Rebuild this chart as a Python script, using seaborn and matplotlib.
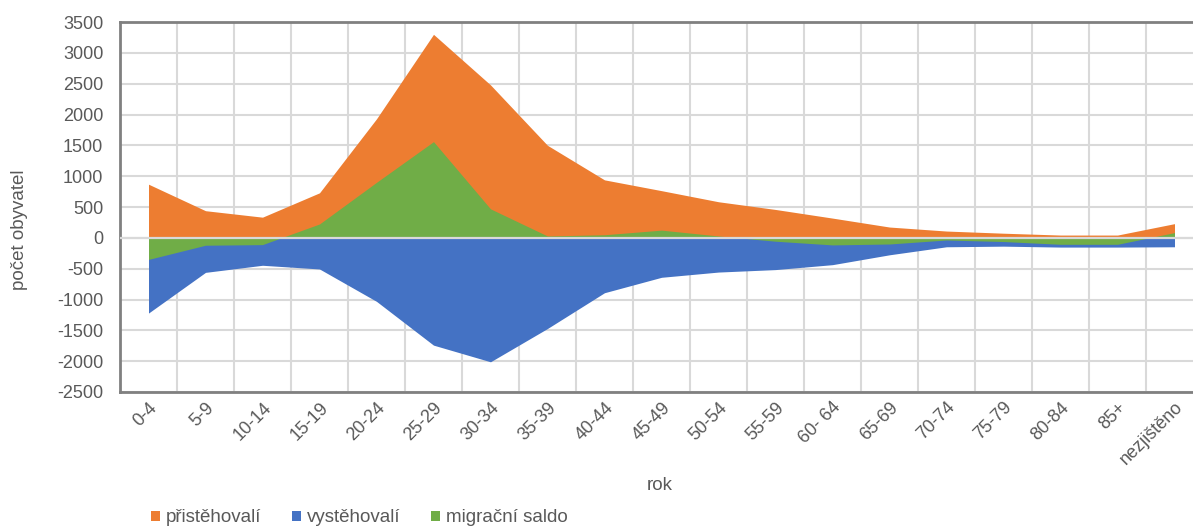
import numpy as np
import pandas as pd
import matplotlib
matplotlib.use("Agg")
import matplotlib.pyplot as plt
from matplotlib.patches import Patch
import seaborn as sns

categories = ['0-4', '5-9', '10-14', '15-19', '20-24', '25-29', '30-34', '35-39',
              '40-44', '45-49', '50-54', '55-59', '60- 64', '65-69', '70-74',
              '75-79', '80-84', '85+', 'nezjištěno']
pristehovali = [870, 440, 335, 730, 1930, 3300, 2480, 1500, 940, 765, 585, 460,
                320, 175, 110, 75, 45, 45, 230]
vystehovali = [-1220, -560, -445, -505, -1030, -1740, -2010, -1470, -890, -640,
               -555, -515, -435, -275, -145, -135, -150, -150, -145]
saldo = [-350, -120, -110, 225, 900, 1560, 470, 30, 50, 125, 30, -55, -115,
         -100, -35, -60, -105, -105, 85]
series_names = ['přistěhovalí', 'vystěhovalí', 'migrační saldo']
y_ticks = list(range(-2500, 3501, 500))

colors = ['#ED7D31', '#4472C4', '#70AD47']
text_color = '#595959'

sns.set_theme(style='white')
plt.rcParams['font.family'] = ['Liberation Sans', 'DejaVu Sans']

fig = plt.figure(figsize=(11.93, 5.26), dpi=100)
ax = fig.add_axes([120 / 1193, 134 / 526, 1083 / 1193, 370 / 526])

x = np.arange(len(categories))
df = pd.DataFrame({'x': np.tile(x, 3),
                   'value': pristehovali + vystehovali + saldo,
                   'series': np.repeat(series_names, len(categories))})

sns.lineplot(data=df, x='x', y='value', hue='series', palette=colors,
             linewidth=0, legend=False, ax=ax, zorder=2)
for name, col in zip(series_names, colors):
    sub = df[df['series'] == name]
    ax.fill_between(sub['x'], 0, sub['value'], color=col, linewidth=0, zorder=2)

ax.axhline(0, color='#D9D9D9', lw=1.6, zorder=3)

ax.set_xlim(-0.5, len(categories) - 0.5)
ax.set_ylim(-2500, 3500)
ax.set_yticks(y_ticks)
ax.set_yticklabels([str(v) for v in y_ticks])
ax.set_xticks(x)
ax.set_xticklabels(categories, rotation=45, ha='right', va='top',
                   rotation_mode='anchor')
ax.set_xticks(np.arange(-0.5, len(categories), 1), minor=True)

ax.grid(which='major', axis='y', color='#D9D9D9', lw=1.5, zorder=0)
ax.grid(which='minor', axis='x', color='#D9D9D9', lw=1.5, zorder=0)
ax.grid(which='major', axis='x', visible=False)
ax.set_axisbelow(True)

ax.tick_params(axis='y', length=0, pad=12, labelsize=13, labelcolor=text_color)
ax.tick_params(axis='x', which='major', length=0, pad=5, labelsize=13,
               labelcolor=text_color)
ax.tick_params(axis='x', which='minor', length=0)

for side in ['left', 'top', 'bottom', 'right']:
    ax.spines[side].set_color('#808080')
    ax.spines[side].set_linewidth(2)

ax.set_ylabel('počet obyvatel', fontsize=13.5, color=text_color)
ax.yaxis.set_label_coords(-92 / 1083, (392 - 230) / 370)
ax.set_xlabel('rok', fontsize=13.5, color=text_color)
ax.xaxis.set_label_coords((660 - 120) / 1083, -(477 - 392) / 370)

handles = [Patch(facecolor=c, edgecolor='none') for c in colors]
fig.legend(handles, series_names, loc='center left', ncol=3, frameon=False,
           fontsize=13.5, bbox_to_anchor=(151 / 1193, 1 - 518 / 526),
           handlelength=0.5, handleheight=0.5, handletextpad=0.3,
           columnspacing=1.62, labelcolor=text_color, borderaxespad=0,
           borderpad=0)

fig.savefig('out.png', dpi=100)
